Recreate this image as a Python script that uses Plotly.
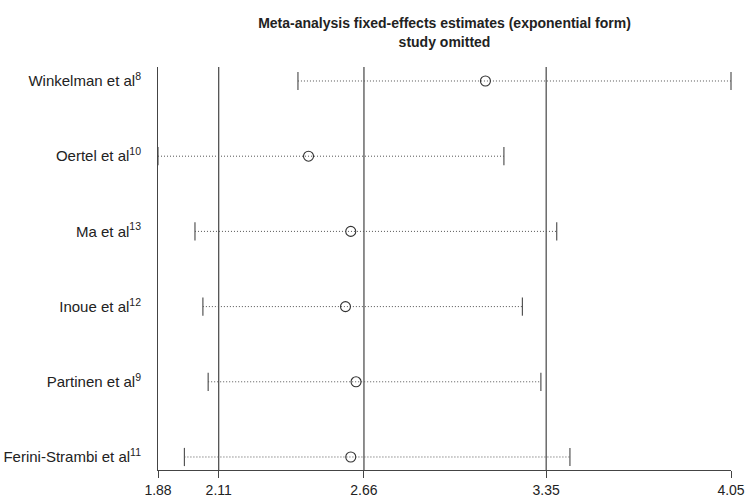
import plotly.graph_objects as go

studies = ["Winkelman et al<sup>8</sup>", "Oertel et al<sup>10</sup>", "Ma et al<sup>13</sup>",
           "Inoue et al<sup>12</sup>", "Partinen et al<sup>9</sup>", "Ferini-Strambi et al<sup>11</sup>"]
estimate = [3.12, 2.45, 2.61, 2.59, 2.63, 2.61]
lower = [2.41, 1.88, 2.02, 2.05, 2.07, 1.98]
upper = [4.05, 3.19, 3.39, 3.26, 3.33, 3.44]
ref_lines = [2.11, 2.66, 3.35]
x_ticks = [1.88, 2.11, 2.66, 3.35, 4.05]

n = len(studies)
ypos = [n - 1 - i for i in range(n)]

fig = go.Figure()
for i in range(n):
    fig.add_trace(go.Scatter(
        x=[lower[i], upper[i]], y=[ypos[i], ypos[i]], mode="lines+markers",
        line=dict(color="#555555", width=1, dash="1px,2px"),
        marker=dict(symbol="line-ns-open", size=13, line=dict(color="#444444", width=1.2)),
        showlegend=False, hoverinfo="skip", cliponaxis=False))
fig.add_trace(go.Scatter(
    x=estimate, y=ypos, mode="markers",
    marker=dict(symbol="circle-open", size=10, color="#333333", line=dict(width=1.1, color="#333333")),
    showlegend=False))

for v in ref_lines:
    fig.add_shape(type="line", x0=v, x1=v, y0=0, y1=1, xref="x", yref="paper",
                  line=dict(color="#333333", width=1.1), layer="below")

fig.update_layout(
    width=746, height=498,
    margin=dict(l=158, r=15, t=67, b=28),
    plot_bgcolor="white", paper_bgcolor="white",
    font=dict(family="Liberation Sans, Arial, sans-serif", color="#222222"),
    title=dict(text="<b>Meta-analysis fixed-effects estimates (exponential form)<br>study omitted</b>",
               x=0.5, xref="paper", xanchor="center", y=0.943, yanchor="middle",
               font=dict(size=14, color="#222222")),
    xaxis=dict(range=[1.88, 4.05], tickvals=x_ticks, ticktext=[f"{t:.2f}" for t in x_ticks],
               showgrid=False, zeroline=False, showline=True, linecolor="#444444", linewidth=1,
               ticks="outside", ticklen=7, tickcolor="#444444", tickwidth=1, automargin=False,
               tickfont=dict(size=14, color="#222222")),
    yaxis=dict(range=[-0.173, 5.186], tickvals=ypos, ticktext=studies, automargin=False,
               showgrid=False, zeroline=False, showline=True, linecolor="#444444", linewidth=1,
               ticks="", ticklabelstandoff=13, tickfont=dict(size=15, color="#222222")),
)
fig.write_html("out.html", config={"responsive": False, "displayModeBar": False},
               post_script="document.body.style.margin='0';document.body.style.overflow='hidden';")
